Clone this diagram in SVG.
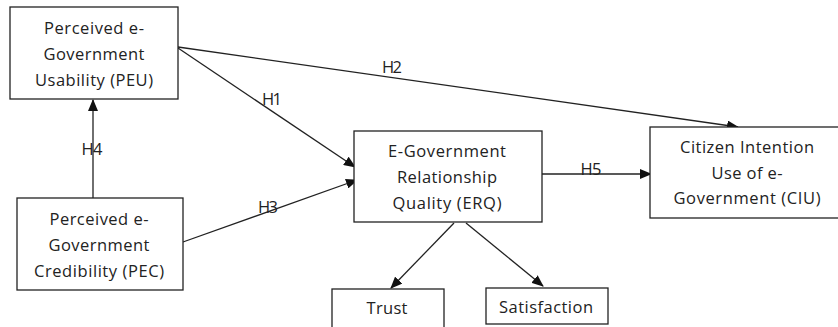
<svg xmlns="http://www.w3.org/2000/svg" width="838" height="327" viewBox="0 0 838 327">
<defs>
<marker id="arr" markerUnits="userSpaceOnUse" markerWidth="12" markerHeight="10" viewBox="0 0 12 10" refX="11" refY="5" orient="auto">
<path d="M0,0 L12,5 L0,10 Z" fill="#111"/>
</marker>
<style>
.box{fill:#fff;stroke:#222;stroke-width:1.3}
.t{font-family:"Open Sans","Liberation Sans",sans-serif;font-size:16.5px;fill:#222;text-anchor:middle}
.c{fill:none;stroke:#222;stroke-width:1.3;marker-end:url(#arr)}
</style>
</defs>
<rect width="838" height="327" fill="#fff"/>
<g id="connectors">
<line class="c" x1="93" y1="198" x2="93" y2="100"/>
<line class="c" x1="178" y1="47" x2="738" y2="127"/>
<line class="c" x1="178" y1="48" x2="355" y2="167"/>
<line class="c" x1="183" y1="242" x2="357" y2="180"/>
<line class="c" x1="542" y1="174" x2="651" y2="174"/>
<line class="c" x1="454" y1="223" x2="391" y2="288"/>
<line class="c" x1="466" y1="223" x2="543" y2="286"/>
<text class="t" x="92" y="155" textLength="21">H4</text>
<text class="t" x="392" y="73" textLength="20">H2</text>
<text class="t" x="272" y="105" textLength="20">H1</text>
<text class="t" x="268" y="213" textLength="20">H3</text>
<text class="t" x="591" y="175" textLength="21">H5</text>
</g>
<g id="peu">
<rect class="box" x="10" y="7" width="168" height="92"/>
<text class="t" x="94" y="34" textLength="100">Perceived e-</text>
<text class="t" x="94" y="60" textLength="101">Government</text>
<text class="t" x="94" y="86" textLength="118">Usability (PEU)</text>
</g>
<g id="pec">
<rect class="box" x="17" y="198" width="166" height="92"/>
<text class="t" x="99" y="225" textLength="99">Perceived e-</text>
<text class="t" x="99" y="251" textLength="101">Government</text>
<text class="t" x="99" y="277" textLength="130">Credibility (PEC)</text>
</g>
<g id="erq">
<rect class="box" x="354" y="131" width="188" height="91"/>
<text class="t" x="447" y="157" textLength="118">E-Government</text>
<text class="t" x="447" y="183" textLength="100">Relationship</text>
<text class="t" x="447" y="209" textLength="109">Quality (ERQ)</text>
</g>
<g id="ciu">
<rect class="box" x="650" y="127" width="192" height="91"/>
<text class="t" x="747" y="153" textLength="134">Citizen Intention</text>
<text class="t" x="747" y="179" textLength="71">Use of e-</text>
<text class="t" x="747" y="204" textLength="147">Government (CIU)</text>
</g>
<g id="trust">
<rect class="box" x="332" y="289" width="112" height="45"/>
<text class="t" x="387" y="314" textLength="41">Trust</text>
</g>
<g id="satisfaction">
<rect class="box" x="486" y="288" width="122" height="36"/>
<text class="t" x="546" y="313" textLength="94">Satisfaction</text>
</g>
</svg>
